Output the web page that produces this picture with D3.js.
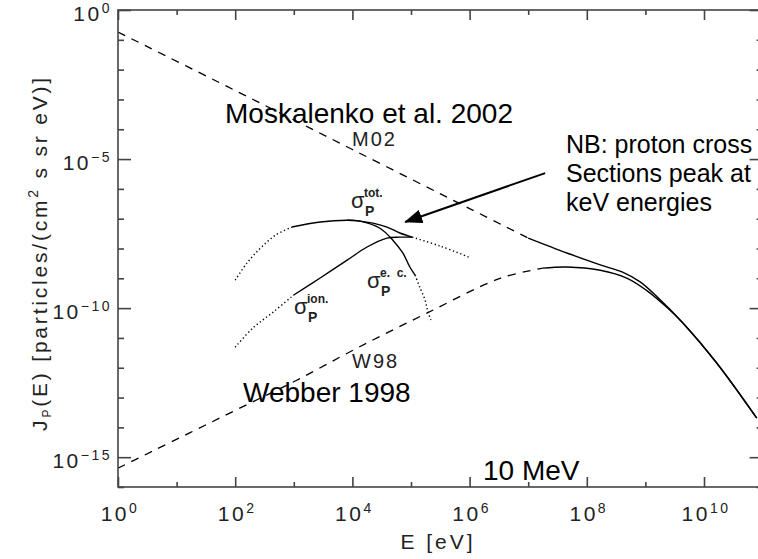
<!DOCTYPE html>
<html>
<head>
<meta charset="utf-8">
<script src="https://cdn.jsdelivr.net/npm/d3@7"></script>
<style>
  body { margin: 0; background: #fff; }
  text { font-family: "Liberation Sans", Arial, sans-serif; }
</style>
</head>
<body>
<svg></svg>
<script>
//svg size
const width = 758;
const height = 559;

//all curve values are log10(E [eV]) and log10(J)
//Moskalenko et al. 2002 (M02)
const m02DashE = [0, 2, 4, 6, 7];
const m02DashJ = [-0.74, -2.70, -4.68, -6.66, -7.65];
const m02SolidE = [7.0, 7.66, 8.23, 8.62, 8.91, 9.20, 9.64, 10.22, 10.90];
const m02SolidJ = [-7.65, -8.15, -8.55, -8.80, -9.12, -9.62, -10.50, -11.85, -13.69];

//Webber 1998 (W98)
const w98DashE = [0, 2.25, 3.05, 4.08, 5.27, 6.52, 7.25];
const w98DashJ = [-15.37, -13.19, -12.42, -11.34, -10.17, -9.0, -8.66];
const w98SolidE = [7.25, 7.66, 8.23, 8.69, 9.03, 9.37, 9.64, 10.22, 10.90];
const w98SolidJ = [-8.66, -8.62, -8.73, -9.0, -9.42, -9.98, -10.50, -11.85, -13.69];

//proton cross sections (scaled)
const totDotLowE = [2.0, 2.2, 2.43, 2.69, 2.97];
const totDotLowJ = [-9.06, -8.49, -7.99, -7.55, -7.28];
const totSolidE = [2.97, 3.45, 3.91, 4.13, 4.35, 4.59, 4.81, 5.02];
const totSolidJ = [-7.28, -7.11, -7.05, -7.08, -7.15, -7.28, -7.48, -7.62];
const totDotHighE = [5.02, 5.5, 6.0];
const totDotHighJ = [-7.62, -7.92, -8.30];

const ionDotE = [2.0, 2.3, 2.65, 3.0];
const ionDotJ = [-11.31, -10.67, -10.13, -9.56];
const ionSolidE = [3.0, 3.45, 3.91, 4.25, 4.59, 4.81, 5.02];
const ionSolidJ = [-9.56, -8.99, -8.39, -7.95, -7.65, -7.62, -7.62];

const ecSolidE = [3.91, 4.13, 4.47, 4.69, 4.86, 4.98, 5.07];
const ecSolidJ = [-7.05, -7.08, -7.32, -7.72, -8.15, -8.62, -8.89];
const ecDotE = [5.07, 5.15, 5.24, 5.29, 5.34];
const ecDotJ = [-8.89, -9.30, -9.73, -10.13, -10.40];

//tick labels (exponents)
const xLabelExps = [0, 2, 4, 6, 8, 10];
const yLabelExps = [0, -5, -10, -15];

//arrow, in data space [logE, logJ]
const arrowTail = [7.29, -5.47];
const arrowTip = [4.90, -7.11];

//plot box
const plotL = 118, plotR = 762.6, plotT = 10, plotB = 487;
const frameCol = '#444';

var svg = d3.select('svg')
  .attr('width', width)
  .attr('height', height);

var x = d3.scaleLog().domain([1, 1e11]).range([plotL, plotR]);
var y = d3.scaleLog().domain([1e-16, 1]).range([plotB, plotT]);

var defs = svg.append('defs');
defs.append('clipPath').attr('id', 'plotclip')
  .append('rect')
  .attr('x', plotL).attr('y', plotT)
  .attr('width', plotR - plotL).attr('height', plotB - plotT);

var line = d3.line()
  .x(d => x(Math.pow(10, d[0])))
  .y(d => y(Math.pow(10, d[1])))
  .curve(d3.curveCatmullRom.alpha(0.5));

var plot = svg.append('g').attr('clip-path', 'url(#plotclip)');

function curve(es, js, style) {
  var p = plot.append('path')
    .attr('d', line(d3.zip(es, js)))
    .attr('fill', 'none')
    .attr('stroke', '#000')
    .attr('stroke-linecap', 'butt');
  if (style === 'dash') p.attr('stroke-width', 1.3).attr('stroke-dasharray', '8,7');
  else if (style === 'dot') p.attr('stroke-width', 1.4).attr('stroke-dasharray', '1.3,2.6');
  else p.attr('stroke-width', 1.4);
}

curve(m02DashE, m02DashJ, 'dash');
curve(m02SolidE, m02SolidJ, 'solid');
curve(w98DashE, w98DashJ, 'dash');
curve(w98SolidE, w98SolidJ, 'solid');

curve(totDotLowE, totDotLowJ, 'dot');
curve(totSolidE, totSolidJ, 'solid');
curve(totDotHighE, totDotHighJ, 'dot');
curve(ionDotE, ionDotJ, 'dot');
curve(ionSolidE, ionSolidJ, 'solid');
curve(ecSolidE, ecSolidJ, 'solid');
curve(ecDotE, ecDotJ, 'dot');

//frame
svg.append('rect')
  .attr('x', plotL).attr('y', plotT)
  .attr('width', plotR - plotL).attr('height', plotB - plotT)
  .attr('fill', 'none')
  .attr('stroke', frameCol)
  .attr('stroke-width', 1.6);

//ticks, every decade, inward
var xDecades = d3.range(0, 12);
var yDecades = d3.range(-16, 1);

function tickStyle(g) {
  g.select('.domain').remove();
  g.selectAll('line').attr('stroke', frameCol).attr('stroke-width', 1.6);
  g.selectAll('text').remove();
}

[['bottom', plotB], ['top', plotT]].forEach(function(s) {
  [[xDecades.filter(e => e % 2 === 0), 10], [xDecades.filter(e => e % 2 !== 0), 5]].forEach(function(t) {
    var ax = (s[0] === 'bottom' ? d3.axisBottom(x) : d3.axisTop(x))
      .tickValues(t[0].map(e => Math.pow(10, e)))
      .tickSize(-t[1]);
    svg.append('g').attr('transform', 'translate(0,' + s[1] + ')').call(ax).call(tickStyle);
  });
});

[['left', plotL], ['right', plotR]].forEach(function(s) {
  [[yDecades.filter(e => e % 5 === 0), 13], [yDecades.filter(e => e % 5 !== 0), 6]].forEach(function(t) {
    var ax = (s[0] === 'left' ? d3.axisLeft(y) : d3.axisRight(y))
      .tickValues(t[0].map(e => Math.pow(10, e)))
      .tickSize(-t[1]);
    svg.append('g').attr('transform', 'translate(' + s[1] + ',0)').call(ax).call(tickStyle);
  });
});

//tick labels with superscripts
function expLabel(g, e) {
  g.append('tspan').text('10');
  g.append('tspan')
    .attr('dy', -8)
    .attr('font-size', 14)
    .text(String(e).replace('-', '\u2212'));
}

xLabelExps.forEach(function(e) {
  var t = svg.append('text')
    .attr('x', x(Math.pow(10, e)) + 2)
    .attr('y', 521)
    .attr('text-anchor', 'middle')
    .attr('font-size', 21)
    .attr('letter-spacing', 2.5)
    .attr('fill', '#222');
  expLabel(t, e);
});

yLabelExps.forEach(function(e) {
  var t = svg.append('text')
    .attr('x', 112)
    .attr('y', y(Math.pow(10, e)) + 11)
    .attr('text-anchor', 'end')
    .attr('font-size', 21)
    .attr('letter-spacing', 2.5)
    .attr('fill', '#222');
  expLabel(t, e);
});

//axis titles
svg.append('text')
  .attr('x', 438)
  .attr('y', 549)
  .attr('text-anchor', 'middle')
  .attr('font-size', 21)
  .attr('letter-spacing', 3)
  .attr('fill', '#222')
  .text('E [eV]');

var yt = svg.append('text')
  .attr('transform', 'translate(47,253) rotate(-90)')
  .attr('text-anchor', 'middle')
  .attr('font-size', 21)
  .attr('letter-spacing', 2.8)
  .attr('fill', '#222');
yt.append('tspan').text('J');
yt.append('tspan').attr('font-size', 12).attr('dy', 4).text('P');
yt.append('tspan').attr('dy', -4).text('(E) [particles/(cm');
yt.append('tspan').attr('font-size', 14).attr('dy', -9).text('2');
yt.append('tspan').attr('dy', 9).text(' s sr eV)]');

//curve tags
function smallText(txt, px, py, size) {
  svg.append('text')
    .attr('x', px).attr('y', py)
    .attr('font-size', size)
    .attr('letter-spacing', 2)
    .attr('fill', '#222')
    .text(txt);
}
smallText('M02', 352, 146, 20);
smallText('W98', 352, 368, 20);

//sigma labels
function sigmaLabel(px, py, sup) {
  svg.append('text').attr('x', px).attr('y', py)
    .attr('font-size', 22).attr('fill', '#222').text('\u03c3');
  svg.append('text').attr('x', px + 14).attr('y', py + 8)
    .attr('font-size', 14).attr('font-weight', 'bold').attr('fill', '#222').text('P');
  svg.append('text').attr('x', px + 13).attr('y', py - 11)
    .attr('font-size', 12).attr('font-weight', 'bold').attr('fill', '#222')
    .attr('xml:space', 'preserve').text(sup);
}
sigmaLabel(351, 208, 'tot.');
sigmaLabel(294, 314, 'ion.');
sigmaLabel(367, 288, 'e.  c.');

//annotations
svg.append('text').attr('x', 225).attr('y', 123)
  .attr('font-size', 28).attr('fill', '#000').text('Moskalenko et al. 2002');
svg.append('text').attr('x', 243).attr('y', 402)
  .attr('font-size', 28).attr('fill', '#000').text('Webber 1998');
svg.append('text').attr('x', 483).attr('y', 480)
  .attr('font-size', 28).attr('fill', '#000').text('10 MeV');

var nbLines = ['NB: proton cross', 'Sections peak at', 'keV energies'];
nbLines.forEach(function(l, i) {
  svg.append('text').attr('x', 566).attr('y', 153 + i * 29)
    .attr('font-size', 25).attr('fill', '#000').text(l);
});

//arrow
defs.append('marker')
  .attr('id', 'head')
  .attr('markerUnits', 'userSpaceOnUse')
  .attr('markerWidth', 18).attr('markerHeight', 14)
  .attr('refX', 17).attr('refY', 7)
  .attr('orient', 'auto')
  .append('path')
  .attr('d', 'M0,0 L18,7 L0,14 Z')
  .attr('fill', '#000');

svg.append('line')
  .attr('x1', x(Math.pow(10, arrowTail[0])))
  .attr('y1', y(Math.pow(10, arrowTail[1])))
  .attr('x2', x(Math.pow(10, arrowTip[0])))
  .attr('y2', y(Math.pow(10, arrowTip[1])))
  .attr('stroke', '#000')
  .attr('stroke-width', 2)
  .attr('marker-end', 'url(#head)');
</script>
</body>
</html>
